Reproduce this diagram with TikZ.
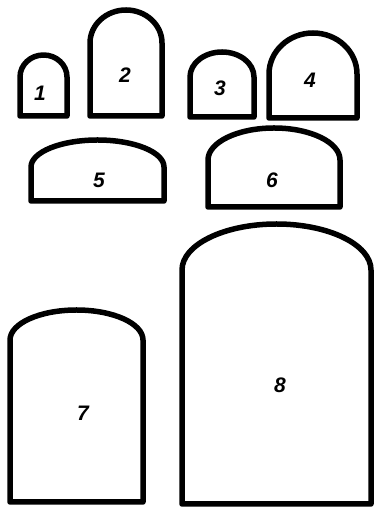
\documentclass[tikz,border=0pt]{standalone}
\usepackage{fontspec}
\setmainfont{Liberation Sans}
\begin{document}
\begin{tikzpicture}[x=1pt,y=1pt,
  tunnel/.style={draw=black,line width=5.5pt,line join=round,fill=white},
  num/.style={font=\fontsize{21}{21}\selectfont\bfseries\itshape}]
\useasboundingbox (0,0) rectangle (374,508);
\fill[white] (0,0) rectangle (374,508);
% 1
\draw[tunnel] (20,392) -- (20,431) arc[start angle=180,end angle=0,x radius=23.5,y radius=22] -- (67,392) -- cycle;
% 2
\draw[tunnel] (90,392) -- (90,465) arc[start angle=180,end angle=0,x radius=36,y radius=33] -- (162,392) -- cycle;
% 3
\draw[tunnel] (190,391) -- (190,431) arc[start angle=180,end angle=0,x radius=32,y radius=25] -- (254,391) -- cycle;
% 4
\draw[tunnel] (269,390) -- (269,434) arc[start angle=180,end angle=0,x radius=44,y radius=41] -- (357,390) -- cycle;
% 5
\draw[tunnel] (31,307) -- (31,341) arc[start angle=180,end angle=0,x radius=66.5,y radius=27] -- (164,307) -- cycle;
% 6
\draw[tunnel] (208,301) -- (208,348) arc[start angle=180,end angle=0,x radius=66,y radius=32] -- (340,301) -- cycle;
% 7
\draw[tunnel] (10,6) -- (10,168) arc[start angle=180,end angle=0,x radius=66.5,y radius=30] -- (143,6) -- cycle;
% 8
\draw[tunnel] (182,4) -- (182,238) arc[start angle=180,end angle=0,x radius=94.5,y radius=46] -- (371,4) -- cycle;
\node[num] (n1) at (40,415) {1};
\node[num] (n2) at (125,433) {2};
\node[num] (n3) at (220,420) {3};
\node[num] (n4) at (310,428) {4};
\node[num] (n5) at (99,328) {5};
\node[num] (n6) at (272,328) {6};
\node[num] (n7) at (83,95) {7};
\node[num] (n8) at (280,123) {8};
\end{tikzpicture}
\end{document}
